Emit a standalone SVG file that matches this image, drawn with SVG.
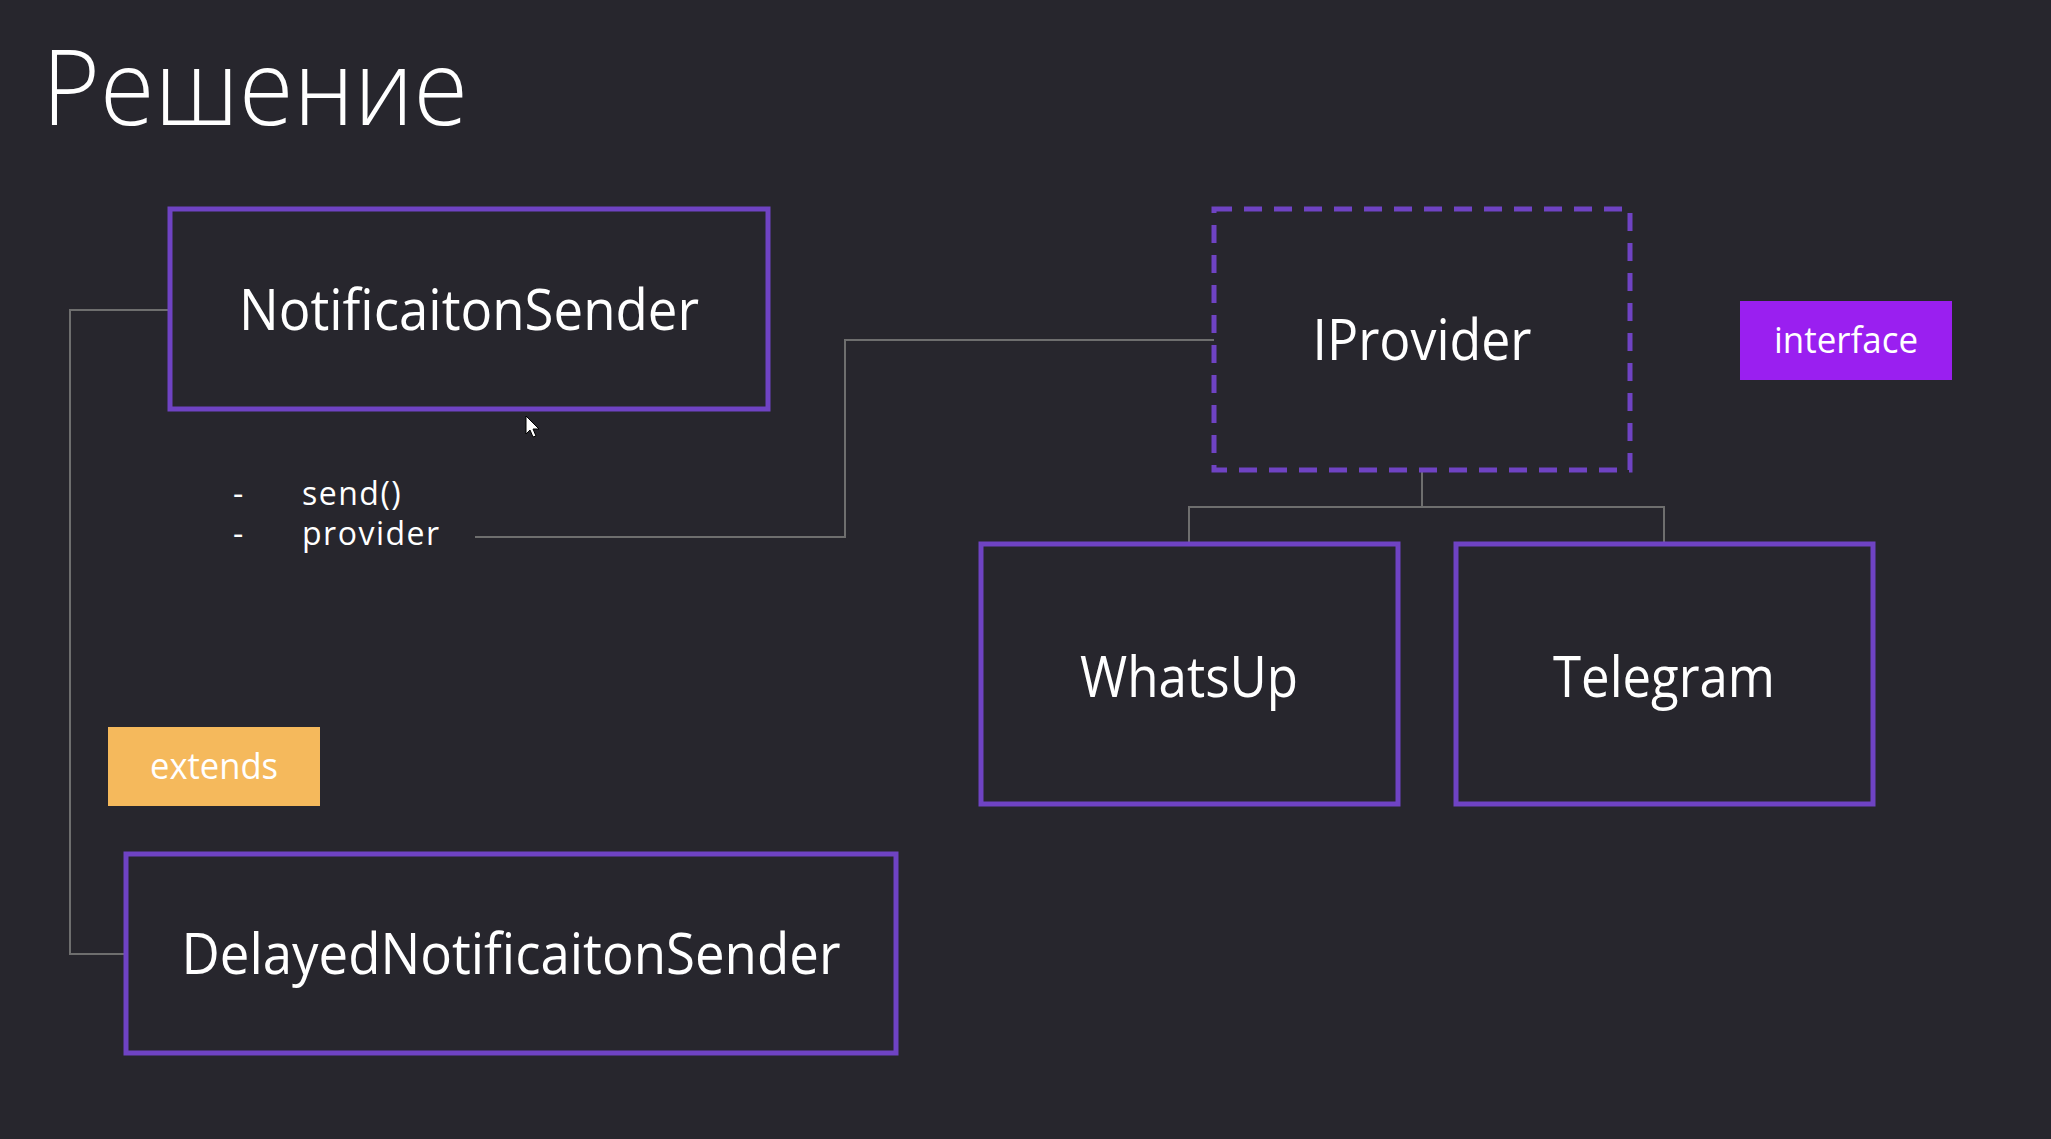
<svg xmlns="http://www.w3.org/2000/svg" width="2051" height="1139" viewBox="0 0 2051 1139">
<defs>
<style>
.bg{fill:#27262d}
.box{fill:none;stroke:#6f43c3;stroke-width:5}
.dash{fill:none;stroke:#6f43c3;stroke-width:5;stroke-dasharray:18 12}
.conn{fill:none;stroke:#6e6e6e;stroke-width:2}
.lbl{font-family:"Open Sans","Noto Sans","Liberation Sans",sans-serif;fill:#ffffff;font-size:56px;text-anchor:middle}
.small{font-family:"Open Sans","Noto Sans","Liberation Sans",sans-serif;fill:#ffffff;font-size:32px;letter-spacing:1.5px}
.tag{font-family:"Open Sans","Noto Sans","Liberation Sans",sans-serif;fill:#ffffff;font-size:36px;text-anchor:middle}
</style>
</defs>
<rect class="bg" x="0" y="0" width="2051" height="1139"/>
<text x="42" y="125" font-family="'Open Sans','Noto Sans','Liberation Sans',sans-serif" font-weight="300" font-size="106" fill="#ffffff" textLength="426" lengthAdjust="spacingAndGlyphs">Решение</text>

<g id="connectors">
<polyline class="conn" points="170,310 70,310 70,954 126,954"/>
<polyline class="conn" points="475,537 845,537 845,340 1214,340"/>
<polyline class="conn" points="1422,470 1422,507 1189,507 1189,544"/>
<polyline class="conn" points="1422,507 1664,507 1664,544"/>
</g>

<g id="notification-sender">
<rect class="box" x="170" y="209" width="598" height="200"/>
<text class="lbl" x="469" y="330" textLength="460" lengthAdjust="spacingAndGlyphs">NotificaitonSender</text>
</g>

<g id="members">
<text class="small"><tspan x="233" y="505">-</tspan><tspan x="302" y="505">send()</tspan><tspan x="233" y="545">-</tspan><tspan x="302" y="545">provider</tspan></text>
</g>

<g id="iprovider">
<rect class="dash" x="1214" y="209" width="416" height="261"/>
<text class="lbl" x="1422" y="360" textLength="219" lengthAdjust="spacingAndGlyphs">IProvider</text>
</g>

<g id="interface-tag">
<rect x="1740" y="301" width="212" height="79" fill="#9a1ff0"/>
<text class="tag" x="1846" y="353" textLength="144" lengthAdjust="spacingAndGlyphs">interface</text>
</g>

<g id="whatsup">
<rect class="box" x="981" y="544" width="417" height="260"/>
<text class="lbl" x="1189" y="697" textLength="218" lengthAdjust="spacingAndGlyphs">WhatsUp</text>
</g>

<g id="telegram">
<rect class="box" x="1456" y="544" width="417" height="260"/>
<text class="lbl" x="1664" y="697" textLength="222" lengthAdjust="spacingAndGlyphs">Telegram</text>
</g>

<g id="extends-tag">
<rect x="108" y="727" width="212" height="79" fill="#f5b95c"/>
<text class="tag" x="214" y="779" textLength="128" lengthAdjust="spacingAndGlyphs">extends</text>
</g>

<g id="delayed-notification-sender">
<rect class="box" x="126" y="854" width="770" height="199"/>
<text class="lbl" x="511" y="974" textLength="659" lengthAdjust="spacingAndGlyphs">DelayedNotificaitonSender</text>
</g>

<path d="M526,416 L526,434 L530,430 L533,437 L536,436 L533,429 L539,429 Z" fill="#ffffff" stroke="#000000" stroke-width="1"/>
</svg>
